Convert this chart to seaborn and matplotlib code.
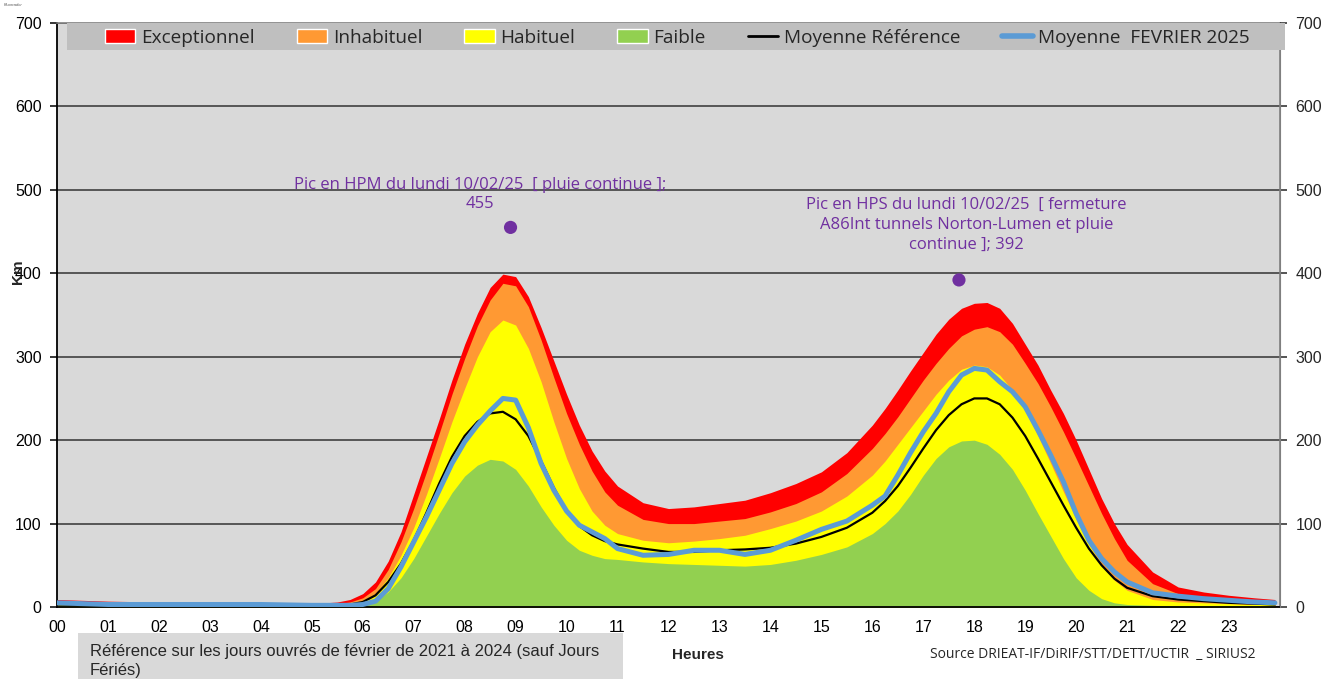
import numpy as np
import pandas as pd
import matplotlib.pyplot as plt
import seaborn as sns
from matplotlib.patches import Patch, Rectangle
from matplotlib.lines import Line2D

# heures (x) et niveaux en km
heures = [0, 1, 2, 3, 4, 5, 5.5, 5.75, 6, 6.25, 6.5, 6.75, 7, 7.25, 7.5, 7.75,
          8, 8.25, 8.5, 8.75, 9, 9.25, 9.5, 9.75, 10, 10.25, 10.5, 10.75, 11, 11.5,
          12, 12.5, 13, 13.5, 14, 14.5, 15, 15.5, 16, 16.25, 16.5, 16.75, 17, 17.25,
          17.5, 17.75, 18, 18.25, 18.5, 18.75, 19, 19.25, 19.5, 19.75, 20, 20.25,
          20.5, 20.75, 21, 21.5, 22, 22.5, 23, 23.5, 23.9]

exceptionnel = [9, 7, 6, 5, 4, 4, 6, 9, 16, 30, 55, 90, 135, 180, 225, 272,
                315, 352, 383, 399, 396, 372, 335, 295, 255, 218, 187, 163, 145, 125,
                118, 120, 124, 128, 137, 148, 162, 185, 218, 238, 260, 283, 305, 327,
                345, 358, 364, 365, 358, 340, 315, 290, 260, 232, 200, 165,
                130, 100, 75, 42, 24, 18, 14, 11, 9]

inhabituel = [5, 4, 4, 4, 3, 3, 4, 6, 11, 22, 45, 78, 118, 162, 208, 255,
              298, 337, 368, 388, 385, 360, 320, 275, 232, 195, 163, 138, 122, 105,
              100, 100, 103, 106, 114, 124, 138, 160, 190, 208, 228, 250, 272, 292,
              310, 325, 333, 336, 330, 315, 292, 268, 240, 210, 178, 145,
              112, 82, 56, 28, 16, 11, 8, 7, 6]

habituel = [3, 3, 3, 3, 2, 2, 3, 4, 8, 16, 35, 62, 95, 135, 178, 222,
            262, 300, 330, 344, 338, 310, 270, 222, 178, 142, 115, 98, 88, 80,
            77, 79, 82, 86, 94, 103, 115, 133, 158, 175, 195, 215, 235, 255,
            272, 285, 290, 288, 278, 260, 235, 205, 172, 138, 105, 75,
            50, 32, 20, 9, 6, 5, 4, 3, 3]

faible = [2, 1, 1, 1, 1, 1, 1, 2, 3, 7, 18, 35, 58, 85, 112, 137,
          157, 170, 177, 175, 165, 145, 120, 98, 80, 68, 62, 58, 57, 54,
          52, 51, 50, 49, 51, 56, 63, 72, 88, 100, 115, 135, 158, 178,
          192, 199, 200, 195, 183, 165, 140, 112, 85, 58, 35, 20,
          10, 5, 3, 2, 1, 1, 1, 1, 1]

moyenne_ref = [3, 2, 2, 2, 2, 2, 2, 3, 6, 14, 30, 52, 80, 113, 148, 180,
               205, 222, 232, 234, 225, 205, 175, 143, 115, 97, 86, 79, 75, 70,
               66, 66, 68, 69, 71, 76, 84, 95, 113, 127, 145, 167, 190, 212,
               230, 243, 250, 250, 243, 227, 205, 178, 150, 122, 95, 70,
               50, 34, 23, 13, 9, 7, 5, 4, 3]

moyenne_fev = [5, 3, 3, 3, 3, 2, 2, 2, 3, 7, 22, 48, 78, 108, 140, 172,
               198, 218, 235, 250, 248, 215, 172, 140, 115, 98, 90, 82, 70, 62,
               63, 68, 68, 63, 68, 80, 93, 103, 122, 133, 158, 185, 210, 232,
               258, 278, 286, 284, 270, 258, 240, 212, 182, 150, 112, 80,
               58, 42, 30, 17, 13, 10, 8, 6, 5]

# pics du lundi 10/02/25
pic_heures = [8.9, 17.7]
pic_valeurs = [455, 392]

df = pd.DataFrame({"heure": heures, "ref": moyenne_ref, "fev": moyenne_fev})

sns.set_style("white")
plt.rcParams["font.family"] = ["Liberation Sans", "DejaVu Sans"]

fig = plt.figure(figsize=(13.32, 6.79), dpi=100)
ax = fig.add_axes([57 / 1332, 1 - 607 / 679, 1223 / 1332, 584 / 679])
ax.set_facecolor("#d9d9d9")

# bandes
ax.fill_between(heures, 0, exceptionnel, color="#ff0000", lw=0, zorder=1)
ax.fill_between(heures, 0, inhabituel, color="#ff9933", lw=0, zorder=1.1)
ax.fill_between(heures, 0, habituel, color="#ffff00", lw=0, zorder=1.2)
ax.fill_between(heures, 0, faible, color="#92d050", lw=0, zorder=1.3)

sns.lineplot(data=df, x="heure", y="ref", ax=ax, color="black", lw=1.6, zorder=3)
sns.lineplot(data=df, x="heure", y="fev", ax=ax, color="#5b9bd5", lw=3.6, zorder=4)
sns.scatterplot(x=pic_heures, y=pic_valeurs, ax=ax, color="#7030a0", s=90,
                edgecolor="none", zorder=5)

ax.set_xlim(0, 24)
ax.set_ylim(0, 700)
ax.set_yticks(range(0, 701, 100))
ax.set_xticks(range(0, 25))
ax.set_xticklabels([f"{h:02d}" for h in range(24)] + [""])
ax.set_xlabel("")
ax.set_ylabel("")
ax.yaxis.grid(True, color="#404040", lw=1.2)
ax.set_axisbelow(True)
ax.tick_params(axis="both", labelsize=11.5, direction="out", length=5, width=1.1,
               colors="black")
ax.tick_params(axis="x", pad=4)
ax.tick_params(axis="y", pad=6)
for side in ["left", "bottom"]:
    ax.spines[side].set_color("black")
    ax.spines[side].set_linewidth(1.3)
for side in ["top", "right"]:
    ax.spines[side].set_color("#7f7f7f")
    ax.spines[side].set_linewidth(1.2)

ax2 = ax.twinx()
ax2.set_ylim(0, 700)
ax2.set_yticks(range(0, 701, 100))
ax2.tick_params(axis="y", labelsize=11.5, direction="out", length=5, width=1.1, pad=6)
ax2.spines["right"].set_color("#7f7f7f")
for side in ["top", "left", "bottom"]:
    ax2.spines[side].set_visible(False)

# fond gris de la légende
ax2.add_patch(Rectangle((10 / 1223, 1 - 27 / 584), 1218 / 1223, 27 / 584,
                        transform=ax2.transAxes, facecolor="#bfbfbf",
                        edgecolor="none", clip_on=False, zorder=9))

handles = [
    Patch(facecolor="#ff0000", label="Exceptionnel"),
    Patch(facecolor="#ff9933", label="Inhabituel"),
    Patch(facecolor="#ffff00", label="Habituel"),
    Patch(facecolor="#92d050", label="Faible"),
    Line2D([], [], color="black", lw=2, label="Moyenne Référence"),
    Line2D([], [], color="#5b9bd5", lw=4, label="Moyenne  FEVRIER 2025"),
]
leg = ax2.legend(handles=handles, ncol=6, loc="center left", mode="expand",
                 bbox_to_anchor=(48 / 1223, 1 - 27 / 584, 1145 / 1223, 25 / 584),
                 frameon=False, prop={"family": "Open Sans", "size": 13.7},
                 handlelength=1.6, handleheight=0.7, handletextpad=0.3,
                 borderpad=0, borderaxespad=0)
leg.set_zorder(10)

# annotations des pics
purple = "#7030a0"
ax.text(8.3, 473, "Pic en HPM du lundi 10/02/25  [ pluie continue ];\n455",
        ha="center", va="bottom", color=purple, fontsize=12, family="Open Sans",
        linespacing=1.3, zorder=6)
ax.text(17.85, 425, "Pic en HPS du lundi 10/02/25  [ fermeture\nA86Int tunnels Norton-Lumen et pluie\ncontinue ]; 392",
        ha="center", va="bottom", color=purple, fontsize=12, family="Open Sans",
        linespacing=1.3, zorder=6)

# textes autour
fig.text(18 / 1332, 1 - 272 / 679, "Km", rotation=90, ha="center", va="center",
         fontsize=11, weight="bold")
fig.text(4 / 1332, 1 - 5 / 679, "Fluorrador", fontsize=3, style="italic",
         color="#555555", va="center")
fig.patches.append(Rectangle((78 / 1332, 0), (623 - 78) / 1332, (679 - 633) / 679,
                             transform=fig.transFigure, facecolor="#d9d9d9",
                             edgecolor="none"))
fig.text(90 / 1332, 1 - 661 / 679,
         "Référence sur les jours ouvrés de février de 2021 à 2024 (sauf Jours\nFériés)",
         ha="left", va="center", fontsize=12, linespacing=1.4)
fig.text(698 / 1332, 1 - 655 / 679, "Heures", ha="center", va="center",
         fontsize=11, weight="bold")
fig.text(1255 / 1332, 1 - 655 / 679, "Source DRIEAT-IF/DiRIF/STT/DETT/UCTIR  _ SIRIUS2",
         ha="right", va="center", fontsize=10, family="Open Sans")

fig.savefig("out.png", dpi=100)
